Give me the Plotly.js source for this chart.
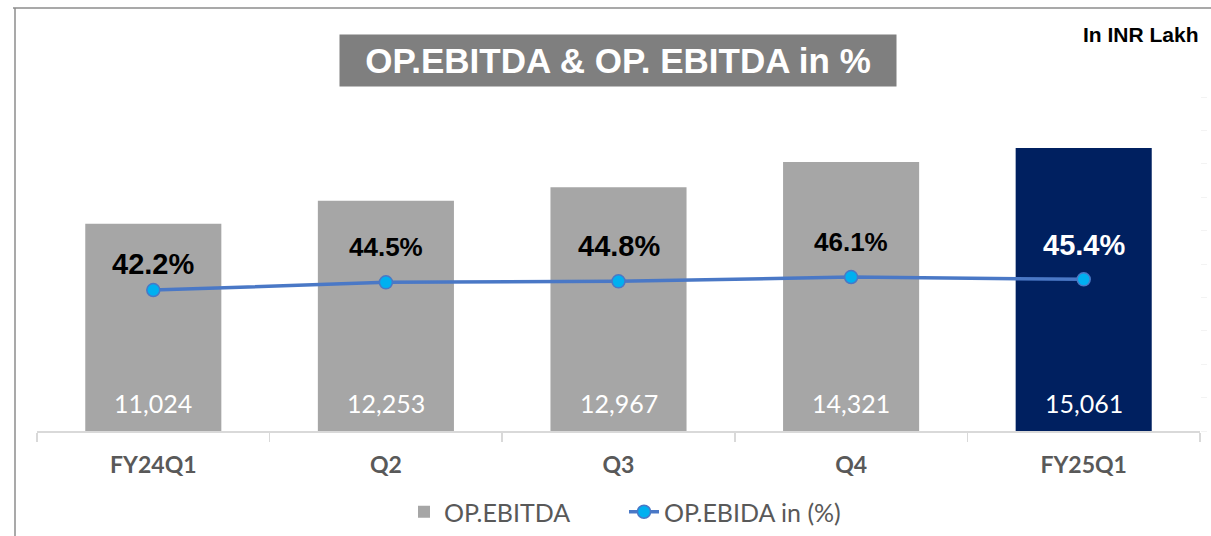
<!DOCTYPE html>
<html>
<head>
<meta charset="utf-8">
<script src="https://cdn.plot.ly/plotly-3.0.1.min.js"></script>
<style>
  html, body { margin: 0; padding: 0; background: #ffffff; }
  #chart { width: 1211px; height: 536px; }
</style>
</head>
<body>
<div id="chart"></div>
<script>
// ---- data ----
const categories = ["FY24Q1", "Q2", "Q3", "Q4", "FY25Q1"];
const opEbitda = [11024, 12253, 12967, 14321, 15061];
const opEbitdaPct = [42.2, 44.5, 44.8, 46.1, 45.4];
const seriesNames = ["OP.EBITDA", "OP.EBIDA in (%)"];
const chartTitle = "OP.EBITDA & OP. EBITDA in %";
const unitNote = "In INR Lakh";

// ---- styles ----
const barColors = ["#a6a6a6", "#a6a6a6", "#a6a6a6", "#a6a6a6", "#002060"];
const pctLabelColors = ["#000000", "#000000", "#000000", "#000000", "#ffffff"];
const pctLabelSizes = [29, 26, 29, 26, 29];
const pctLabelShift = [26, 35, 35, 35, 34];

const fmt = v => v.toLocaleString("en-US");

const traces = [
  {
    type: "bar",
    name: seriesNames[0],
    x: categories,
    y: opEbitda,
    marker: { color: barColors },
    yaxis: "y",
    hoverinfo: "skip"
  },
  {
    type: "scatter",
    mode: "lines+markers",
    name: seriesNames[1],
    x: categories,
    y: opEbitdaPct,
    yaxis: "y2",
    line: { color: "#4a78c6", width: 3.5 },
    marker: { color: "#00b0f0", size: 13, line: { color: "#4a78c6", width: 1.5 } },
    hoverinfo: "skip"
  }
];

const annotations = [];
categories.forEach((c, i) => {
  annotations.push({
    x: c, y: 0, xref: "x", yref: "y",
    text: fmt(opEbitda[i]),
    showarrow: false, yanchor: "middle", yshift: 28,
    font: { family: "Lato, 'Open Sans', sans-serif", size: 25, color: "#ffffff" }
  });
  annotations.push({
    x: c, y: opEbitdaPct[i], xref: "x", yref: "y2",
    text: opEbitdaPct[i].toFixed(1) + "%",
    showarrow: false, yanchor: "middle", yshift: pctLabelShift[i],
    font: { family: "'Liberation Sans', Arial, sans-serif", size: pctLabelSizes[i], color: pctLabelColors[i], weight: 700 }
  });
});

// title box
annotations.push({
  x: (618 - 37) / 1163, y: (431 - 60.5) / 334, xref: "paper", yref: "paper",
  text: chartTitle, showarrow: false, xanchor: "center", yanchor: "middle",
  width: 556, height: 51, bgcolor: "#7f7f7f", borderpad: 0,
  font: { family: "'Liberation Sans', Arial, sans-serif", size: 35, color: "#ffffff", weight: 700 }
});
// unit note
annotations.push({
  x: (1201 - 37) / 1163, y: (431 - 35) / 334, xref: "paper", yref: "paper",
  text: unitNote, showarrow: false, xanchor: "right", yanchor: "middle",
  font: { family: "'Liberation Sans', Arial, sans-serif", size: 21, color: "#000000", weight: 700 }
});

const layout = {
  width: 1211, height: 536,
  margin: { l: 37, r: 11, t: 97, b: 105, pad: 0, autoexpand: false },
  paper_bgcolor: "#ffffff", plot_bgcolor: "#ffffff",
  showlegend: true,
  bargap: 0.415,
  xaxis: {
    type: "category",
    showgrid: false, zeroline: false,
    showline: true, linecolor: "#d9d9d9", linewidth: 1.5,
    ticks: "outside", tickson: "boundaries", ticklen: 9, tickcolor: "#d9d9d9", tickwidth: 1.5,
    ticklabelstandoff: 13,
    tickfont: { family: "Lato, 'Open Sans', sans-serif", size: 23, color: "#595959", weight: 700 },
    automargin: false,
    fixedrange: true
  },
  yaxis: {
    range: [0, 17775], visible: false, showgrid: false, zeroline: false, fixedrange: true
  },
  yaxis2: {
    overlaying: "y", side: "right", range: [0, 100], dtick: 10,
    showgrid: false, zeroline: false, showline: false,
    showticklabels: false, ticks: "outside", ticklen: 6, tickcolor: "#f3f3f3",
    automargin: false,
    fixedrange: true
  },
  legend: {
    orientation: "h", x: (624 - 37) / 1163, xanchor: "center", y: (431 - 512) / 334, yanchor: "middle",
    font: { family: "Lato, 'Open Sans', sans-serif", size: 25, color: "#595959" },
    entrywidth: 175,
    itemclick: false, itemdoubleclick: false
  },
  shapes: [
    { type: "line", xref: "paper", yref: "paper",
      x0: (13 - 37) / 1163, x1: (1211 - 37) / 1163, y0: (431 - 8) / 334, y1: (431 - 8) / 334,
      line: { color: "#8c8c8c", width: 1.5 } },
    { type: "line", xref: "paper", yref: "paper",
      x0: (15 - 37) / 1163, x1: (15 - 37) / 1163, y0: (431 - 8) / 334, y1: (431 - 540) / 334,
      line: { color: "#8c8c8c", width: 1.5 } }
  ],
  annotations: annotations,
  hovermode: false
};

Plotly.newPlot("chart", traces, layout, { displayModeBar: false, staticPlot: true });
</script>
</body>
</html>
